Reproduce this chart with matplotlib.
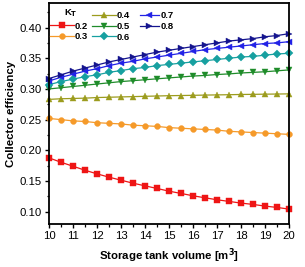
import matplotlib
matplotlib.use("Agg")
import matplotlib.pyplot as plt
from matplotlib.ticker import MultipleLocator
import numpy as np

plt.rcParams['font.family'] = ['Liberation Sans', 'DejaVu Sans']

volume = np.arange(10, 20.01, 0.5)

kt_labels = ["0.2", "0.3", "0.4", "0.5", "0.6", "0.7", "0.8"]

eff_02 = [0.1877, 0.1806, 0.1741, 0.1676, 0.1617, 0.1563, 0.1514, 0.1465, 0.1422, 0.1379,
          0.1335, 0.1298, 0.1260, 0.1227, 0.1195, 0.1168, 0.1141, 0.1119, 0.1092, 0.1070, 0.1043]
eff_03 = [0.252, 0.250, 0.248, 0.247, 0.245, 0.244, 0.243, 0.241, 0.240, 0.239,
          0.237, 0.236, 0.235, 0.234, 0.233, 0.231, 0.230, 0.229, 0.228, 0.227, 0.226]
eff_04 = [0.283, 0.284, 0.2845, 0.285, 0.286, 0.2865, 0.287, 0.2875, 0.288, 0.2885,
          0.289, 0.2893, 0.2896, 0.290, 0.2903, 0.2906, 0.291, 0.2912, 0.2915, 0.2917, 0.292]
eff_05 = [0.300, 0.302, 0.304, 0.306, 0.308, 0.310, 0.312, 0.3135, 0.315, 0.3165,
          0.318, 0.3195, 0.321, 0.322, 0.3235, 0.3245, 0.326, 0.327, 0.328, 0.3295, 0.331]
eff_06 = [0.307, 0.312, 0.316, 0.320, 0.323, 0.327, 0.330, 0.333, 0.335, 0.338,
          0.340, 0.342, 0.344, 0.346, 0.348, 0.350, 0.352, 0.353, 0.355, 0.357, 0.358]
eff_07 = [0.313, 0.319, 0.324, 0.329, 0.333, 0.338, 0.342, 0.345, 0.349, 0.352,
          0.355, 0.358, 0.361, 0.364, 0.366, 0.368, 0.370, 0.372, 0.374, 0.375, 0.377]
eff_08 = [0.317, 0.323, 0.329, 0.334, 0.339, 0.344, 0.348, 0.352, 0.356, 0.360,
          0.363, 0.366, 0.369, 0.372, 0.375, 0.378, 0.380, 0.382, 0.385, 0.387, 0.390]

series = [eff_02, eff_03, eff_04, eff_05, eff_06, eff_07, eff_08]
colors = ["#ee1515", "#f59a2a", "#9c9c1e", "#1f8c2a", "#17a0a0", "#2222e6", "#14148e"]
markers = ["s", "o", "^", "v", "D", "<", ">"]
msizes = [3.8, 4.2, 4.2, 4.2, 3.6, 4.2, 4.2]

fig = plt.figure(figsize=(3.05, 2.67), dpi=100)
ax = fig.add_axes([0.1607, 0.161, 0.7868, 0.8278])

handles = []
for y, c, m, ms, lab in zip(series, colors, markers, msizes, kt_labels):
    h, = ax.plot(volume, y, color=c, marker=m, markersize=ms, linewidth=0.9,
                 markeredgewidth=0.3, markeredgecolor=c, label=lab, clip_on=False)
    handles.append(h)

ax.set_xlim(10, 20)
ax.set_ylim(0.08, 0.44)
ax.xaxis.set_major_locator(MultipleLocator(1))
ax.xaxis.set_minor_locator(MultipleLocator(0.5))
ax.yaxis.set_minor_locator(MultipleLocator(0.025))
ax.set_yticks([0.10, 0.15, 0.20, 0.25, 0.30, 0.35, 0.40])
ax.set_yticklabels(["0.10", "0.15", "0.20", "0.25", "0.30", "0.35", "0.40"])
ax.tick_params(which='major', direction='out', length=3, width=1.0, labelsize=8.2, pad=2)
ax.tick_params(which='minor', direction='out', length=1.8, width=0.9)
for s in ax.spines.values():
    s.set_linewidth(1.3)

ax.set_xlabel("Storage tank volume [m$^\\mathbf{3}$]", fontsize=8.2, fontweight='bold', labelpad=4)
ax.set_ylabel("Collector efficiency", fontsize=8.2, fontweight='bold', labelpad=3)

leg_kw = dict(frameon=False, borderpad=0, borderaxespad=0, handletextpad=0.15,
              labelspacing=0.18, prop={'weight': 'bold', 'size': 6.8}, loc='upper left')
leg1 = ax.legend(handles[0:2], kt_labels[0:2], bbox_to_anchor=(0.004, 0.915), handlelength=2.5, **leg_kw)
ax.add_artist(leg1)
leg2 = ax.legend(handles[2:5], kt_labels[2:5], bbox_to_anchor=(0.179, 0.962), handlelength=2.5, **leg_kw)
ax.add_artist(leg2)
leg3 = ax.legend(handles[5:7], kt_labels[5:7], bbox_to_anchor=(0.379, 0.962), handlelength=2.0, **leg_kw)

ax.text(0.0625, 0.955, "K$_\\mathbf{T}$", transform=ax.transAxes, fontsize=6.8,
        fontweight='bold', va='center', ha='left')

fig.savefig("out.png", dpi=100)
